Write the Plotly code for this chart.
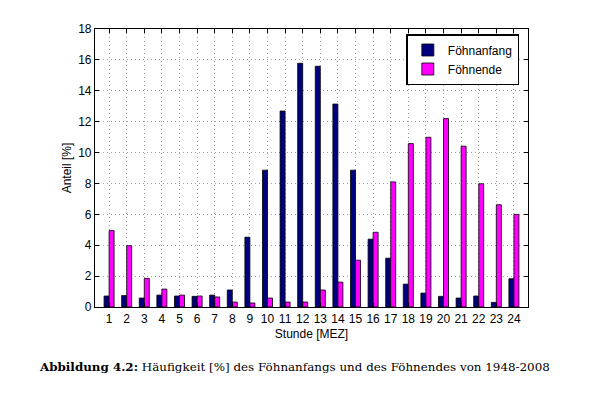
import plotly.graph_objects as go

hours = list(range(1, 25))
foehnanfang = [0.71, 0.74, 0.58, 0.77, 0.71, 0.69, 0.77, 1.10, 4.52, 8.86, 12.69, 15.78,
               15.59, 13.14, 8.86, 4.39, 3.16, 1.48, 0.90, 0.69, 0.58, 0.71, 0.30, 1.83]
foehnende = [4.95, 3.97, 1.85, 1.16, 0.77, 0.71, 0.65, 0.32, 0.26, 0.58, 0.32, 0.32,
             1.10, 1.61, 3.03, 4.84, 8.10, 10.58, 10.99, 12.20, 10.41, 7.98, 6.62, 6.00]
y_ticks = [0, 2, 4, 6, 8, 10, 12, 14, 16, 18]
caption_bold = "Abbildung 4.2:"
caption_rest = " Häufigkeit [%] des Föhnanfangs und des Föhnendes von 1948-2008"

fig = go.Figure()
fig.add_trace(go.Bar(x=hours, y=foehnanfang, name="Föhnanfang",
                     marker=dict(color="#00007f", line=dict(color="black", width=0.8))))
fig.add_trace(go.Bar(x=hours, y=foehnende, name="Föhnende",
                     marker=dict(color="#ff00ff", line=dict(color="black", width=0.8))))

axis_common = dict(showline=True, linecolor="black", linewidth=1.2, mirror="ticks",
                   ticks="inside", ticklen=4, tickcolor="black", automargin=False,
                   showgrid=True, gridcolor="#a0a0a0", griddash="1px,3px", gridwidth=1,
                   zeroline=False, tickfont=dict(family="Liberation Sans", size=12, color="black"))

fig.update_layout(
    width=594, height=394,
    margin=dict(l=87, r=74, t=21, b=95),
    paper_bgcolor="white", plot_bgcolor="white",
    barmode="group", bargap=0.43, bargroupgap=0,
    font=dict(family="Liberation Sans", size=12, color="black"),
    xaxis=dict(range=[0.2, 24.8], tickvals=hours, ticktext=[str(h) for h in hours],
               title=dict(text="Stunde [MEZ]", standoff=5, font=dict(size=12)), **axis_common),
    yaxis=dict(range=[0, 18], tickvals=y_ticks, ticktext=[str(v) for v in y_ticks],
               title=dict(text="Anteil [%]", standoff=3, font=dict(size=12)), **axis_common),
    legend=dict(x=0.98, y=0.982, xanchor="right", yanchor="top",
                bgcolor="white", bordercolor="black", borderwidth=1.5,
                font=dict(family="Liberation Sans", size=12), tracegroupgap=0,
                itemwidth=30),
    annotations=[dict(xref="paper", yref="paper", x=-0.134, y=-0.216, xanchor="left", yanchor="middle",
                      showarrow=False,
                      text="<b>" + caption_bold + "</b>" + caption_rest,
                      font=dict(family="DejaVu Serif", size=11.9, color="black"))],
    showlegend=True,
)
fig.write_html("out.html")
